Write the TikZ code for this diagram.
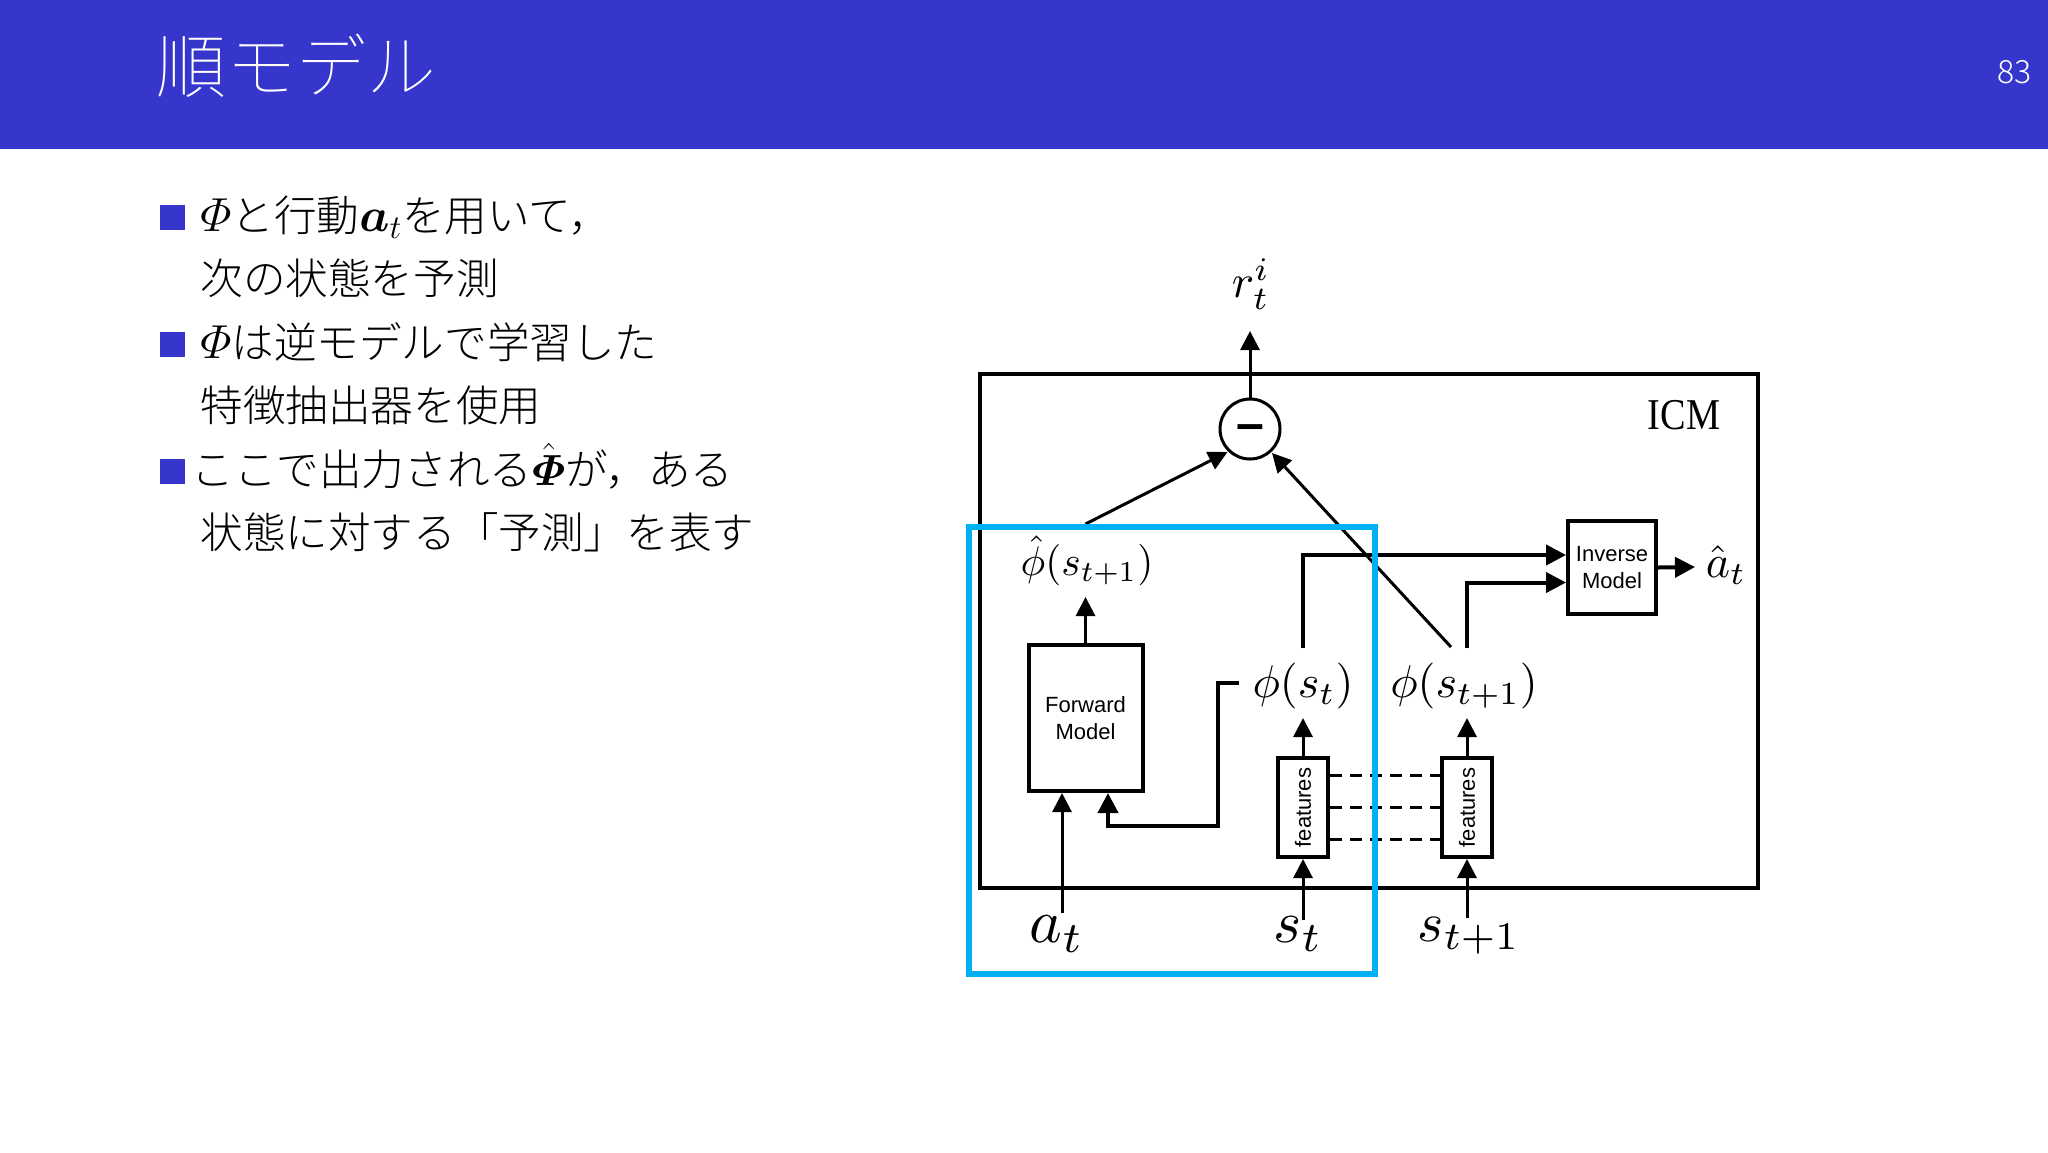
\documentclass[tikz,border=0pt]{standalone}
\usepackage{amsmath}
\usepackage{graphicx}
\usepackage{fontspec}
\setmainfont{Liberation Serif}
\setsansfont{Liberation Sans}
\newfontfamily\jpthin{Noto Sans CJK JP Thin}
\newfontfamily\jpbody{Noto Sans CJK JP Light}
\usetikzlibrary{arrows.meta}
\definecolor{banner}{RGB}{54,54,204}
\definecolor{focus}{RGB}{0,176,240}
\newcommand{\inl}[2][1.15]{\scalebox{#1}{$#2$}}
\tikzset{
        arr/.style={line width=1.5pt,-{Triangle[length=9.5pt,width=9.5pt]}},
        arrb/.style={line width=2pt,-{Triangle[length=10pt,width=10pt]}},
        blockbox/.style={draw,line width=2pt,inner sep=0pt,align=center,font=\sffamily\fontsize{11}{13.5}\selectfont},
        featbox/.style={blockbox,rotate=90,minimum width=49.5pt,minimum height=25pt},
        line/.style={anchor=base west,inner sep=0pt,font=\jpbody\fontsize{21.3}{21.3}\selectfont},
        bullet/.style={fill=banner,inner sep=0pt,minimum width=12.5pt,minimum height=12.5pt},
        mathlbl/.style={inner sep=0pt,scale=#1/10},
}
\begin{document}
\begin{tikzpicture}[x=0.5pt,y=-0.5pt]
        \useasboundingbox (0,0) rectangle (2048,1152);
        \fill[banner] (0,0) rectangle (2048,149);
        \node[anchor=west,inner sep=0pt,text=white,font=\jpthin\fontsize{35}{35}\selectfont] (title) at (156,66) {順モデル};
        \node[anchor=east,inner sep=0pt,text=white,font=\jpbody\fontsize{16}{16}\selectfont] (pageno) at (2032,72) {83};

        \node[bullet] (b1) at (172.5,217.5) {};
        \node[bullet] (b2) at (172.5,344) {};
        \node[bullet] (b3) at (172.5,471.5) {};
        \node[line] (l1) at (200,231) {\inl{\varPhi}と行動\inl{\boldsymbol{a}_t}を用いて，};
        \node[line] (l2) at (200,294.5) {次の状態を予測};
        \node[line] (l3) at (200,358) {\inl{\varPhi}は逆モデルで学習した};
        \node[line] (l4) at (200,421.5) {特徴抽出器を使用};
        \node[line] (l5) at (191,485) {ここで出力される\inl[1.05]{\hat{\boldsymbol{\varPhi}}}が，ある};
        \node[line] (l6) at (200,548.5) {状態に対する「予測」を表す};

        \node[draw,line width=2.25pt,inner sep=0pt,minimum width=389pt,minimum height=257pt] (icm) at (1369,631) {};
        \node[inner sep=0pt,xscale=.87,font=\fontsize{22}{22}\selectfont] (icmlabel) at (1684,415) {ICM};

        \node[draw,circle,line width=1.5pt,inner sep=0pt,minimum size=30pt] (minus) at (1250,429) {};
        \node[inner sep=0pt,font=\sffamily\bfseries\fontsize{25}{25}\selectfont] (minusbar) at (1250,433) {--};
        \node[blockbox,minimum width=57pt,minimum height=73pt] (forward) at (1085.5,718) {Forward\\Model};
        \node[blockbox,minimum width=44pt,minimum height=46.5pt] (inverse) at (1612,567.5) {Inverse\\Model};
        \node[featbox] (featA) at (1303,807.5) {features};
        \node[featbox] (featB) at (1467,807.5) {features};

        \node[mathlbl=23.5] (rt) at (1251,284) {$r_t^i$};
        \node[mathlbl=20.7] (phihat) at (1087,561) {$\hat\phi(s_{t+1})$};
        \node[mathlbl=23] (at) at (1303,686) {$\phi(s_t)$};
        \node[mathlbl=23] (atnext) at (1464,686) {$\phi(s_{t+1})$};
        \node[mathlbl=23] (ahat) at (1726,565) {$\hat a_t$};
        \node[mathlbl=31] (inA) at (1057,934) {$a_t$};
        \node[mathlbl=30] (inS) at (1298,934) {$s_t$};
        \node[mathlbl=28] (inN) at (1469,936) {$s_{t+1}$};

        \coordinate (rtip) at (1250,331);
        \coordinate (dlfrom) at (1085.5,524);
        \coordinate (dlto) at (1227.5,452);
        \coordinate (drfrom) at (1451,647);
        \coordinate (drto) at (1272,453);
        \coordinate (phitip) at (1085.5,597);
        \coordinate (fromA) at (1303,648);
        \coordinate (fromB) at (1467,648);
        \coordinate (aout) at (1695,567);
        \coordinate (acta) at (1062,913);
        \coordinate (ftipa) at (1062,793);
        \coordinate (ftipb) at (1108,793);
        \coordinate (fback) at (1239,683);
        \coordinate (fturn) at (1218,826);
        \coordinate (tipA) at (1303,718);
        \coordinate (tipB) at (1467,718);
        \coordinate (staA) at (1303,920);
        \coordinate (staB) at (1467,918);
        \coordinate (intoA) at (1303,859);
        \coordinate (intoB) at (1467,859);

        \draw[arr] (minus.north) -- (rtip);
        \draw[arr] (dlfrom) -- (dlto);
        \draw[arr] (drfrom) -- (drto);
        \draw[arr] (forward.north) -- (phitip);
        \draw[arrb] (fromA) |- ([yshift=6.25pt]inverse.west);
        \draw[arrb] (fromB) |- ([yshift=-7.5pt]inverse.west);
        \draw[arrb] (inverse.east) -- (aout);
        \draw[arr] (acta) -- (ftipa);
        \draw[arrb] (fback) -| (fturn) -| (ftipb);
        \draw[arr] (featA.east) -- (tipA);
        \draw[arr] (featB.east) -- (tipB);
        \draw[arr] (staA) -- (intoA);
        \draw[arr] (staB) -- (intoB);
        \foreach \off in {-16,0,16} {
                \draw[line width=1.5pt,dash pattern=on 6pt off 4pt] ([yshift=\off pt]featA.south) -- ([yshift=\off pt]featB.north);
        }

        \draw[focus,line width=3pt] (969,527) rectangle (1375,974);
\end{tikzpicture}
\end{document}
